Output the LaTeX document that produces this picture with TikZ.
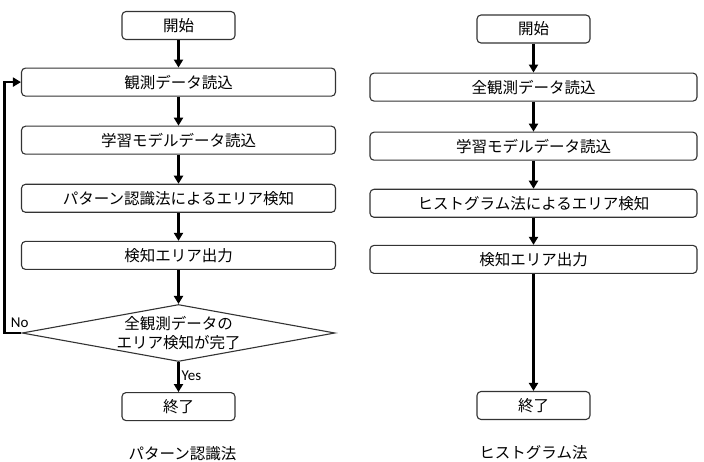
\documentclass[tikz,border=0pt]{standalone}
\usepackage{fontspec}
\setmainfont{Noto Sans CJK JP}
\newfontfamily\yesnofont{Carlito}
\usepackage{tikz}
\usetikzlibrary{arrows.meta,positioning,shapes.geometric}

\begin{document}
\begin{tikzpicture}[x=1pt, y=-1pt,
        terminal/.style={draw=black!80, line width=1.1pt, fill=white, text=black, rounded corners=4pt, minimum width=113pt, minimum height=28pt, inner sep=0pt, font=\fontsize{15.5}{19}\selectfont},
        process/.style={terminal, minimum width=314pt},
        decision/.style={diamond, draw=black!80, line width=1.1pt, fill=white, minimum width=313pt, minimum height=57pt, inner sep=0pt},
        caption/.style={font=\fontsize{15.5}{19}\selectfont, inner sep=1pt},
        yesno/.style={font=\yesnofont\fontsize{15}{18}\selectfont, inner sep=2pt},
        arrow/.style={-{Triangle[length=8pt, width=9pt]}, line width=2.4pt}
    ]
    \useasboundingbox (0,0) rectangle (704,462);
    % pattern recognition
    \node[terminal] (start1) at (178.5,25.5) {開始};
    \node[process, below=27.5pt of start1] (read1) {観測データ読込};
    \node[process, below=29pt of read1] (model1) {学習モデルデータ読込};
    \node[process, below=29pt of model1] (detect1) {パターン認識法によるエリア検知};
    \node[process, below=28pt of detect1] (out1) {検知エリア出力};
    \node[decision, below=34pt of out1] (judge1) {};
    \node[caption, align=center] (judgetext1) at (judge1) {全観測データの\\エリア検知が完了};
    \node[terminal, below=30pt of judge1] (end1) {終了};
    \node[caption, below=24pt of end1, xshift=4pt] (title1) {パターン認識法};
    \draw[arrow] (start1) -- (read1);
    \draw[arrow] (read1) -- (model1);
    \draw[arrow] (model1) -- (detect1);
    \draw[arrow] (detect1) -- (out1);
    \draw[arrow] (out1) -- (judge1);
    \draw[arrow] (judge1) -- node[yesno, right, pos=0.45] {Yes} (end1);
    \draw[arrow] (judge1.west) -- node[yesno, above, pos=0.1, yshift=2pt] {No} ++(-17,0) |- (read1.west);
    % histogram
    \node[terminal] (start2) at (533.5,29) {開始};
    \node[process, minimum width=327pt, below=29pt of start2] (read2) {全観測データ読込};
    \node[process, minimum width=327pt, below=30pt of read2] (model2) {学習モデルデータ読込};
    \node[process, minimum width=327pt, below=28pt of model2] (detect2) {ヒストグラム法によるエリア検知};
    \node[process, minimum width=327pt, below=27pt of detect2] (out2) {検知エリア出力};
    \node[terminal, below=117pt of out2] (end2) {終了};
    \node[caption, below=24pt of end2] (title2) {ヒストグラム法};
    \draw[arrow] (start2) -- (read2);
    \draw[arrow] (read2) -- (model2);
    \draw[arrow] (model2) -- (detect2);
    \draw[arrow] (detect2) -- (out2);
    \draw[arrow] (out2) -- (end2);
\end{tikzpicture}
\end{document}
